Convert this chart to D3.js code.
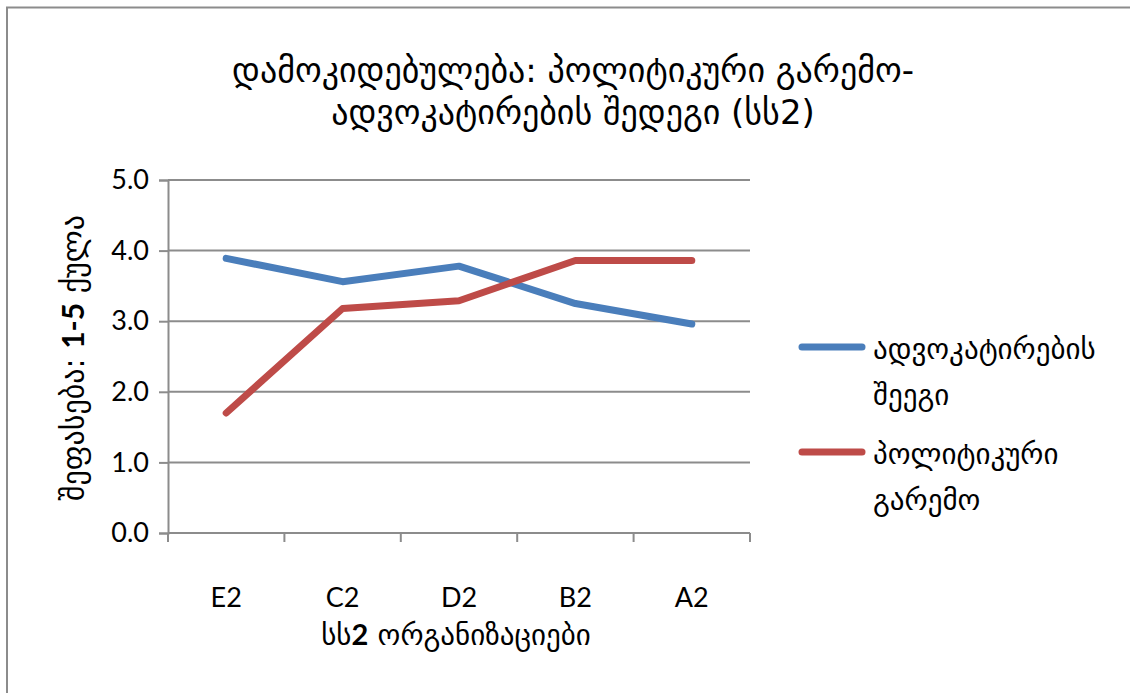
<!DOCTYPE html>
<html>
<head>
<meta charset="utf-8">
<script src="https://cdn.jsdelivr.net/npm/d3@7"></script>
<style>
  html, body { margin: 0; padding: 0; background: #fff; }
  svg { display: block; }
</style>
</head>
<body>
<svg id="chart" width="1130" height="693"></svg>
<script>
// Categories (organisations) and the two score series
const categories = ["E2", "C2", "D2", "B2", "A2"];
const advocacyResult = [3.89, 3.56, 3.78, 3.25, 2.96];
const politicalEnv = [1.70, 3.18, 3.29, 3.86, 3.86];
const yTicks = [0, 1, 2, 3, 4, 5];
const seriesNames = [["ადვოკატირების", "შეეგი"], ["პოლიტიკური", "გარემო"]];
const seriesColors = ["#4a7ebb", "#be4b48"];

const geoFont = "'DejaVu Sans', 'Noto Sans', sans-serif";
const numFont = "Lato, 'Open Sans', 'Liberation Sans', sans-serif";

const svg = d3.select("#chart");

// Outer frame
svg.append("rect")
  .attr("x", 7).attr("y", 7.5)
  .attr("width", 1140).attr("height", 700)
  .attr("fill", "none").attr("stroke", "#8c8c8c").attr("stroke-width", 2);

const plot = { left: 168, right: 750, top: 180, bottom: 533 };

const x = d3.scaleBand().domain(categories).range([plot.left, plot.right]);
const y = d3.scaleLinear().domain([0, 5]).range([plot.bottom, plot.top]);

// Horizontal gridlines
svg.append("g")
  .selectAll("line")
  .data(yTicks.filter(d => d > 0))
  .join("line")
  .attr("x1", plot.left).attr("x2", plot.right)
  .attr("y1", d => y(d)).attr("y2", d => y(d))
  .attr("stroke", "#8c8c8c").attr("stroke-width", 2);

// Y axis
const yAxis = svg.append("g")
  .attr("transform", `translate(${plot.left},0)`)
  .call(d3.axisLeft(y).tickValues(yTicks).tickFormat(d3.format(".1f")).tickSize(9).tickPadding(10));
yAxis.select(".domain").attr("stroke", "#8c8c8c").attr("stroke-width", 2);
yAxis.selectAll(".tick line").attr("stroke", "#8c8c8c").attr("stroke-width", 2);
yAxis.selectAll(".tick text")
  .attr("font-family", numFont).attr("font-size", 27).attr("fill", "#000");

// X axis (ticks on category boundaries)
const xAxis = svg.append("g")
  .attr("transform", `translate(0,${plot.bottom})`);
xAxis.append("line")
  .attr("x1", plot.left).attr("x2", plot.right)
  .attr("stroke", "#8c8c8c").attr("stroke-width", 2);
const boundaries = categories.map(c => x(c)).concat([plot.right]);
xAxis.selectAll("line.tk")
  .data(boundaries)
  .join("line").attr("class", "tk")
  .attr("x1", d => d).attr("x2", d => d)
  .attr("y1", 0).attr("y2", 9)
  .attr("stroke", "#8c8c8c").attr("stroke-width", 2);
xAxis.selectAll("text")
  .data(categories)
  .join("text")
  .attr("x", d => x(d) + x.bandwidth() / 2)
  .attr("y", 74)
  .attr("text-anchor", "middle")
  .attr("font-family", numFont).attr("font-size", 27)
  .text(d => d);

// Lines
const line = d3.line()
  .x((d, i) => x(categories[i]) + x.bandwidth() / 2)
  .y(d => y(d));

[advocacyResult, politicalEnv].forEach((s, i) => {
  svg.append("path")
    .datum(s)
    .attr("d", line)
    .attr("fill", "none")
    .attr("stroke", seriesColors[i])
    .attr("stroke-width", 7)
    .attr("stroke-linecap", "round")
    .attr("stroke-linejoin", "round");
});

// Title
const title = svg.append("text")
  .attr("text-anchor", "middle")
  .attr("font-family", geoFont).attr("font-size", 34).attr("fill", "#000");
title.append("tspan").attr("x", 573).attr("y", 82).text("დამოკიდებულება: პოლიტიკური გარემო-");
title.append("tspan").attr("x", 573).attr("y", 124).text("ადვოკატირების შედეგი (სს2)");

// Y axis title
const yTitle = svg.append("text")
  .attr("transform", "translate(84,358) rotate(-90)")
  .attr("text-anchor", "middle")
  .attr("font-family", geoFont).attr("font-size", 30).attr("fill", "#000");
yTitle.append("tspan").text("შეფასება: ");
yTitle.append("tspan").attr("font-weight", "bold").attr("font-family", numFont).text("1-5");
yTitle.append("tspan").text(" ქულა");

// X axis title
const xTitle = svg.append("text")
  .attr("x", 456).attr("y", 645)
  .attr("text-anchor", "middle")
  .attr("font-family", geoFont).attr("font-size", 29).attr("fill", "#000");
xTitle.append("tspan").text("სს");
xTitle.append("tspan").attr("font-weight", "bold").attr("font-family", numFont).text("2");
xTitle.append("tspan").text(" ორგანიზაციები");

// Legend
const legendY = [347, 452];
seriesNames.forEach((lines, i) => {
  const g = svg.append("g");
  g.append("line")
    .attr("x1", 802).attr("x2", 862)
    .attr("y1", legendY[i]).attr("y2", legendY[i])
    .attr("stroke", seriesColors[i]).attr("stroke-width", 7)
    .attr("stroke-linecap", "round");
  const t = g.append("text")
    .attr("font-family", geoFont).attr("font-size", 29).attr("fill", "#000");
  lines.forEach((l, j) => {
    t.append("tspan").attr("x", 873).attr("y", legendY[i] + 12 + j * 46).text(l);
  });
});
</script>
</body>
</html>
